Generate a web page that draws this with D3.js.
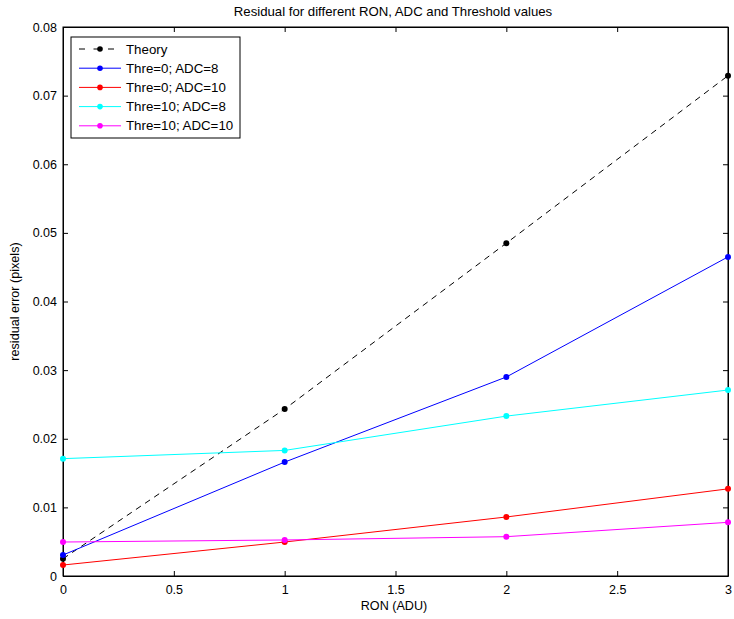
<!DOCTYPE html>
<html><head><meta charset="utf-8">
<script src="https://cdn.jsdelivr.net/npm/d3@7"></script>
<style>body{margin:0;background:#fff;} svg{display:block;font-family:"Liberation Sans",Arial,sans-serif;}</style>
</head><body>
<svg id="c" width="734" height="619"></svg>
<script>
const xValues = [0, 1, 2, 3];
const seriesNames = ["Theory", "Thre=0; ADC=8", "Thre=0; ADC=10", "Thre=10; ADC=8", "Thre=10; ADC=10"];
const seriesColors = ["#000000", "#0000ff", "#ff0000", "#00ffff", "#ff00ff"];
const theory = [0.00252, 0.02433, 0.0485, 0.0729];
const thre0adc8 = [0.00306, 0.0166, 0.0290, 0.0465];
const thre0adc10 = [0.0016, 0.00495, 0.0086, 0.0127];
const thre10adc8 = [0.0171, 0.0183, 0.0233, 0.0271];
const thre10adc10 = [0.00495, 0.00525, 0.00573, 0.00782];
const xTicks = [0, 0.5, 1, 1.5, 2, 2.5, 3];
const yTicks = [0, 0.01, 0.02, 0.03, 0.04, 0.05, 0.06, 0.07, 0.08];
const seriesData = [theory, thre0adc8, thre0adc10, thre10adc8, thre10adc10];

const svg = d3.select("#c");
const L = 63, R = 728, T = 27, B = 576;
const x = d3.scaleLinear().domain([0, 3]).range([L, R]);
const y = d3.scaleLinear().domain([0, 0.08]).range([B, T]);
const fmtY = d => d === 0 ? "0" : d3.format(".2f")(d);
const fmtX = d => String(d);

svg.append("rect").attr("x", L).attr("y", T).attr("width", R - L).attr("height", B - T)
  .attr("fill", "none").attr("stroke", "#000").attr("stroke-width", 1);

const tl = 5;
const gx = svg.append("g").attr("transform", `translate(0,${B})`)
  .call(d3.axisBottom(x).tickValues(xTicks).tickFormat(fmtX).tickSizeInner(-tl).tickSizeOuter(0).tickPadding(9));
const gxt = svg.append("g").attr("transform", `translate(0,${T})`)
  .call(d3.axisTop(x).tickValues(xTicks).tickFormat("").tickSizeInner(-tl).tickSizeOuter(0));
const gy = svg.append("g").attr("transform", `translate(${L},0)`)
  .call(d3.axisLeft(y).tickValues(yTicks).tickFormat(fmtY).tickSizeInner(-tl).tickSizeOuter(0).tickPadding(6));
const gyr = svg.append("g").attr("transform", `translate(${R},0)`)
  .call(d3.axisRight(y).tickValues(yTicks).tickFormat("").tickSizeInner(-tl).tickSizeOuter(0));
[gx, gxt, gy, gyr].forEach(g => {
  g.select(".domain").attr("stroke", "#000");
  g.selectAll("line").attr("stroke", "#000");
  g.selectAll("text").attr("font-size", 12.5).attr("fill", "#000").attr("font-family", "Liberation Sans, Arial, sans-serif");
});

const line = d3.line().x((d, i) => x(xValues[i])).y(d => y(d));
seriesData.forEach((vals, si) => {
  svg.append("path").datum(vals).attr("d", line).attr("fill", "none")
    .attr("stroke", seriesColors[si]).attr("stroke-width", 1)
    .attr("stroke-dasharray", si === 0 ? "6,5" : null);
  svg.append("g").selectAll("circle").data(vals).join("circle")
    .attr("cx", (d, i) => x(xValues[i])).attr("cy", d => y(d)).attr("r", 3)
    .attr("fill", seriesColors[si]);
});

svg.append("text").attr("x", 393).attr("y", 16).attr("text-anchor", "middle")
  .attr("font-size", 13.2).text("Residual for different RON, ADC and Threshold values");
svg.append("text").attr("x", 394).attr("y", 610).attr("text-anchor", "middle")
  .attr("font-size", 12.6).text("RON (ADU)");
svg.append("text").attr("transform", `translate(19,${(T + B) / 2}) rotate(-90)`).attr("text-anchor", "middle")
  .attr("font-size", 12.6).text("residual error (pixels)");

const lg = svg.append("g");
lg.append("rect").attr("x", 71).attr("y", 37).attr("width", 169).attr("height", 101)
  .attr("fill", "#fff").attr("stroke", "#000").attr("stroke-width", 1);
seriesNames.forEach((name, i) => {
  const yy = 49 + i * 19.2;
  lg.append("line").attr("x1", 79).attr("x2", 121).attr("y1", yy).attr("y2", yy)
    .attr("stroke", seriesColors[i]).attr("stroke-width", 1)
    .attr("stroke-dasharray", i === 0 ? "6,8.5" : null);
  lg.append("circle").attr("cx", 100).attr("cy", yy).attr("r", 2.8).attr("fill", seriesColors[i]);
  lg.append("text").attr("x", 126).attr("y", yy + 4.5).attr("font-size", 13.3).text(name);
});
</script>
</body></html>
